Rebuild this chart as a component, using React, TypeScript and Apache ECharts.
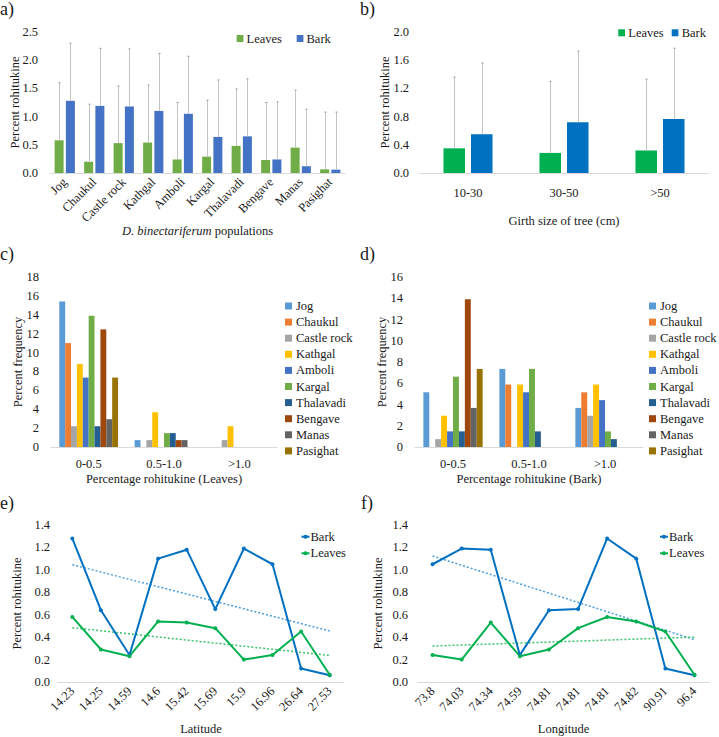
import React, { useEffect, useRef } from 'react';
import * as echarts from 'echarts';

// ---------- data ----------
const populations = ['Jog', 'Chaukul', 'Castle rock', 'Kathgal', 'Amboli', 'Kargal', 'Thalavadi', 'Bengave', 'Manas', 'Pasighat'];
const leavesMean = [0.58, 0.20, 0.53, 0.54, 0.24, 0.29, 0.48, 0.23, 0.45, 0.065];
const barkMean = [1.28, 1.19, 1.18, 1.10, 1.05, 0.64, 0.65, 0.24, 0.12, 0.06];
const leavesUpper = [1.60, 1.22, 1.54, 1.56, 1.25, 1.29, 1.49, 1.25, 1.47, 1.08];
const barkUpper = [2.30, 2.21, 2.20, 2.12, 2.07, 1.65, 1.67, 1.26, 1.13, 1.08];

const girthClasses = ['10-30', '30-50', '>50'];
const girthLeavesMean = [0.35, 0.285, 0.32];
const girthBarkMean = [0.55, 0.72, 0.765];
const girthLeavesUpper = [1.36, 1.30, 1.33];
const girthBarkUpper = [1.56, 1.73, 1.77];

const rangeClasses = ['0-0.5', '0.5-1.0', '>1.0'];
const leavesFreq = [
  [15.4, 0.73, 0], [11.0, 0, 0], [2.2, 0.73, 0.73], [8.8, 3.68, 2.2], [7.35, 0, 0],
  [13.9, 1.47, 0], [2.2, 1.47, 0], [12.45, 0.73, 0], [2.94, 0.73, 0], [7.35, 0, 0],
];
const barkFreq = [
  [5.15, 7.35, 3.68], [0, 5.88, 5.15], [0.74, 0, 2.94], [2.94, 5.88, 5.88], [1.47, 5.15, 4.41],
  [6.62, 7.35, 1.47], [1.47, 1.47, 0.74], [13.9, 0, 0], [3.68, 0, 0], [7.35, 0, 0],
];
const popColors = ['#5B9BD5', '#ED7D31', '#A5A5A5', '#FFC000', '#4472C4', '#70AD47', '#255E91', '#9E480E', '#636363', '#997300'];

const latitudeLabels = ['14.23', '14.25', '14.59', '14.6', '15.42', '15.69', '15.9', '16.96', '26.64', '27.53'];
const latBark = [1.28, 0.64, 0.24, 1.10, 1.18, 0.65, 1.19, 1.05, 0.12, 0.06];
const latLeaves = [0.58, 0.29, 0.23, 0.54, 0.53, 0.48, 0.20, 0.24, 0.45, 0.065];
const longitudeLabels = ['73.8', '74.03', '74.34', '74.59', '74.81', '74.81', '74.81', '74.82', '90.91', '96.4'];
const lonBark = [1.05, 1.19, 1.18, 0.24, 0.64, 0.65, 1.28, 1.10, 0.12, 0.06];
const lonLeaves = [0.24, 0.20, 0.53, 0.23, 0.29, 0.48, 0.58, 0.54, 0.45, 0.065];

// ---------- styling ----------
const FONT = 'Liberation Serif';
const FS = 12.5;
const TXT = '#1a1a1a';
const AXISC = '#d9d9d9';
const ERRC = '#c4c4c4';

function linearFit(values: number[]): number[] {
  const n = values.length;
  const xs = values.map((_, i) => i + 1);
  const mx = xs.reduce((a, b) => a + b, 0) / n;
  const my = values.reduce((a, b) => a + b, 0) / n;
  let sxy = 0, sxx = 0;
  for (let i = 0; i < n; i++) { sxy += (xs[i] - mx) * (values[i] - my); sxx += (xs[i] - mx) ** 2; }
  const b = sxy / sxx;
  return xs.map((x) => +(my + b * (x - mx)).toFixed(4));
}

function catAxis(gridIndex: number, data: string[], extra: any = {}) {
  return {
    type: 'category', gridIndex, data,
    axisLine: { show: true, lineStyle: { color: AXISC, width: 1 } },
    axisTick: { show: false },
    axisLabel: { interval: 0, fontFamily: FONT, fontSize: FS, color: TXT, ...(extra.axisLabel || {}) },
    nameLocation: 'middle', nameMoveOverlap: false,
    nameTextStyle: { fontFamily: FONT, fontSize: FS, color: TXT, ...(extra.nameTextStyle || {}) },
    name: extra.name, nameGap: extra.nameGap,
  };
}
function valAxis(gridIndex: number, max: number, interval: number, digits: number, name: string, nameGap: number, margin: number) {
  return {
    type: 'value', gridIndex, min: 0, max, interval,
    axisLine: { show: false }, axisTick: { show: false }, splitLine: { show: false },
    axisLabel: { fontFamily: FONT, fontSize: FS, color: TXT, margin, formatter: (v: number) => v.toFixed(digits) },
    name, nameLocation: 'middle', nameGap, nameMoveOverlap: false,
    nameTextStyle: { fontFamily: FONT, fontSize: FS, color: TXT },
  };
}
function errSeries(axisIndex: number, means: number[], uppers: number[], offset: number) {
  return {
    type: 'custom', xAxisIndex: axisIndex, yAxisIndex: axisIndex, z: 5, silent: true,
    data: means.map((m, i) => [i, m, uppers[i]]),
    encode: { x: 0, y: [1, 2] },
    renderItem: (params: any, api: any) => {
      const i = api.value(0);
      const p0 = api.coord([i, api.value(1)]);
      const p1 = api.coord([i, api.value(2)]);
      const x = Math.round(p0[0] + offset) + 0.5;
      return {
        type: 'group', children: [
          { type: 'line', shape: { x1: x, y1: p0[1], x2: x, y2: p1[1] }, style: { stroke: ERRC, lineWidth: 1 } },
          { type: 'line', shape: { x1: x - 1, y1: p1[1], x2: x + 1, y2: p1[1] }, style: { stroke: '#999', lineWidth: 1 } },
        ],
      };
    },
  };
}
function txt(x: number, y: number, text: string, size = FS, extra: any = {}) {
  return { type: 'text', x, y, silent: true, style: { text, fontFamily: FONT, fontSize: size, fill: TXT, verticalAlign: 'middle', align: 'left', ...extra } };
}
function sq(x: number, y: number, w: number, h: number, color: string) {
  return { type: 'rect', silent: true, shape: { x, y, width: w, height: h }, style: { fill: color } };
}
function lineKey(x: number, y: number, color: string, label: string) {
  return [
    { type: 'line', silent: true, shape: { x1: x, y1: y, x2: x + 8, y2: y }, style: { stroke: color, lineWidth: 2 } },
    { type: 'circle', silent: true, shape: { cx: x + 4, cy: y, r: 2 }, style: { fill: color } },
    txt(x + 9, y, label),
  ];
}

export default function App() {
  const ref = useRef<HTMLDivElement>(null);
  useEffect(() => {
    if (!ref.current) return;
    const chart = echarts.init(ref.current, undefined, { renderer: 'svg' });

    const grids = [
      { left: 50, top: 32, width: 295, height: 141 },   // a
      { left: 420, top: 32, width: 288, height: 141 },  // b
      { left: 51, top: 277, width: 226, height: 170 },  // c
      { left: 415, top: 277, width: 228, height: 170 }, // d
      { left: 58, top: 525, width: 286, height: 157 },  // e
      { left: 418, top: 525, width: 291, height: 157 }, // f
    ];

    const xAxes = [
      catAxis(0, populations, {
        axisLabel: { rotate: 45, margin: 7 },
        name: '{i|D. binectariferum} populations', nameGap: 51,
        nameTextStyle: { rich: { i: { fontStyle: 'italic', fontFamily: FONT, fontSize: FS, color: TXT } } },
      }),
      catAxis(1, girthClasses, { axisLabel: { margin: 13 }, name: 'Girth size of tree (cm)', nameGap: 41 }),
      catAxis(2, rangeClasses, { axisLabel: { margin: 10 }, name: 'Percentage rohitukine (Leaves)', nameGap: 25 }),
      catAxis(3, rangeClasses, { axisLabel: { margin: 10 }, name: 'Percentage rohitukine (Bark)', nameGap: 25 }),
      catAxis(4, latitudeLabels, { axisLabel: { rotate: 45, margin: 7 }, name: 'Latitude', nameGap: 40 }),
      catAxis(5, longitudeLabels, { axisLabel: { rotate: 45, margin: 7 }, name: 'Longitude', nameGap: 40 }),
    ];
    const yAxes = [
      valAxis(0, 2.5, 0.5, 1, 'Percent rohitukine', 29, 12),
      valAxis(1, 2.0, 0.4, 1, 'Percent rohitukine', 29, 11),
      valAxis(2, 18, 2, 0, 'Percent frequency', 27, 12),
      valAxis(3, 16, 2, 0, 'Percent frequency', 27, 12),
      valAxis(4, 1.4, 0.2, 1, 'Percent rohitukine', 35, 8),
      valAxis(5, 1.4, 0.2, 1, 'Percent rohitukine', 34, 10),
    ];

    const series: any[] = [];
    // a
    series.push({ type: 'bar', name: 'Leaves', xAxisIndex: 0, yAxisIndex: 0, data: leavesMean, barWidth: 9, barGap: '25%', itemStyle: { color: '#70AD47' }, silent: true });
    series.push({ type: 'bar', name: 'Bark', xAxisIndex: 0, yAxisIndex: 0, data: barkMean, barWidth: 9, barGap: '25%', itemStyle: { color: '#4472C4' }, silent: true });
    series.push(errSeries(0, leavesMean, leavesUpper, -5.6));
    series.push(errSeries(0, barkMean, barkUpper, 5.6));
    // b
    series.push({ type: 'bar', name: 'Leaves', xAxisIndex: 1, yAxisIndex: 1, data: girthLeavesMean, barWidth: 21.5, barGap: '28%', itemStyle: { color: '#00B050' }, silent: true });
    series.push({ type: 'bar', name: 'Bark', xAxisIndex: 1, yAxisIndex: 1, data: girthBarkMean, barWidth: 21.5, barGap: '28%', itemStyle: { color: '#0070C0' }, silent: true });
    series.push(errSeries(1, girthLeavesMean, girthLeavesUpper, -13.75));
    series.push(errSeries(1, girthBarkMean, girthBarkUpper, 13.75));
    // c, d
    populations.forEach((p, i) => {
      series.push({ type: 'bar', name: p, xAxisIndex: 2, yAxisIndex: 2, data: leavesFreq[i], barGap: '0%', barCategoryGap: '22%', itemStyle: { color: popColors[i] }, silent: true });
    });
    populations.forEach((p, i) => {
      series.push({ type: 'bar', name: p, xAxisIndex: 3, yAxisIndex: 3, data: barkFreq[i], barGap: '0%', barCategoryGap: '22%', itemStyle: { color: popColors[i] }, silent: true });
    });
    // e, f
    const lineS = (name: string, idx: number, data: number[], color: string) => ({
      type: 'line', name, xAxisIndex: idx, yAxisIndex: idx, data, symbol: 'circle', symbolSize: 4,
      lineStyle: { color, width: 2 }, itemStyle: { color }, silent: true, z: 4,
    });
    const trendS = (idx: number, data: number[], color: string) => ({
      type: 'line', name: 'trend', xAxisIndex: idx, yAxisIndex: idx, data: linearFit(data), symbol: 'none',
      lineStyle: { color, width: 1.5, type: [2, 2] }, silent: true, z: 3,
    });
    series.push(trendS(4, latBark, '#4a9ee0'));
    series.push(trendS(4, latLeaves, '#3cc46a'));
    series.push(lineS('Bark', 4, latBark, '#0070C0'));
    series.push(lineS('Leaves', 4, latLeaves, '#00B050'));
    series.push(trendS(5, lonBark, '#4a9ee0'));
    series.push(trendS(5, lonLeaves, '#3cc46a'));
    series.push(lineS('Bark', 5, lonBark, '#0070C0'));
    series.push(lineS('Leaves', 5, lonLeaves, '#00B050'));

    const legendCommon = {
      data: populations, orient: 'vertical', icon: 'rect', itemWidth: 7, itemHeight: 7, itemGap: 2.1,
      selectedMode: false, padding: 0,
      textStyle: { fontFamily: FONT, fontSize: FS, color: TXT, lineHeight: 14, padding: [0, 0, 0, -1] },
    };

    const graphic: any[] = [
      txt(0, 9, 'a)', 18), txt(360, 9, 'b)', 18), txt(0, 253.5, 'c)', 18), txt(360, 253.5, 'd)', 18),
      txt(0, 502.5, 'e)', 18), txt(361, 502.5, 'f)', 18),
      sq(236.7, 35, 6.7, 7, '#70AD47'), txt(246.5, 38.7, 'Leaves'),
      sq(296.7, 35, 6.7, 7, '#4472C4'), txt(306.5, 38.7, 'Bark'),
      sq(618.3, 29.3, 6.7, 7, '#00B050'), txt(628.3, 33, 'Leaves'),
      sq(671.7, 29.3, 6.7, 7, '#0070C0'), txt(681.7, 33, 'Bark'),
      ...lineKey(301.5, 536.7, '#0070C0', 'Bark'),
      ...lineKey(301.5, 553.3, '#00B050', 'Leaves'),
      ...lineKey(660, 536.7, '#0070C0', 'Bark'),
      ...lineKey(660, 553.3, '#00B050', 'Leaves'),
    ];

    chart.setOption({
      animation: false,
      grid: grids,
      xAxis: xAxes,
      yAxis: yAxes,
      series,
      legend: [
        { ...legendCommon, left: 285, top: 299 },
        { ...legendCommon, left: 649, top: 299 },
      ],
      graphic,
    });
    return () => chart.dispose();
  }, []);
  return <div ref={ref} style={{ position: 'absolute', left: 0, top: 0, width: 719, height: 737, background: '#fff' }} />;
}
